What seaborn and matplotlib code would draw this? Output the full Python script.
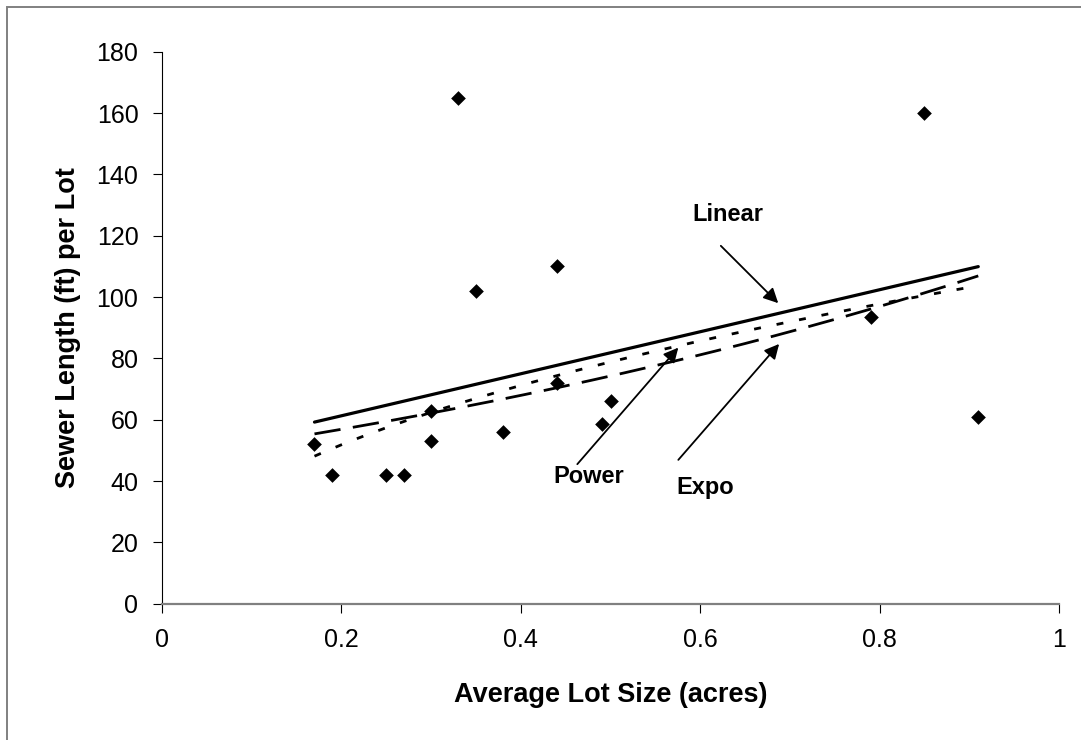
import numpy as np
import pandas as pd
import matplotlib
matplotlib.use("Agg")
import matplotlib.pyplot as plt
from matplotlib.patches import Rectangle
import seaborn as sns

# Average lot size (acres) and sewer length per lot (ft)
lot_size = [0.17, 0.19, 0.25, 0.27, 0.30, 0.30, 0.33, 0.35, 0.38, 0.44,
            0.44, 0.49, 0.50, 0.79, 0.85, 0.91]
sewer_len = [52, 42, 42, 42, 53, 63, 165, 102, 56, 72,
             110, 58.5, 66, 93.5, 160, 61]

x_ticks = [0, 0.2, 0.4, 0.6, 0.8, 1]
x_tick_labels = ["0", "0.2", "0.4", "0.6", "0.8", "1"]
y_ticks = [0, 20, 40, 60, 80, 100, 120, 140, 160, 180]

sns.set_theme(style="white")
plt.rcParams["font.family"] = ["Liberation Sans", "DejaVu Sans"]
plt.rcParams["lines.scale_dashes"] = False
plt.rcParams["text.color"] = "black"
plt.rcParams["axes.labelcolor"] = "black"

df = pd.DataFrame({"x": lot_size, "y": sewer_len})

W, H = 1081, 740
fig = plt.figure(figsize=(W / 100, H / 100), dpi=100)
ax = fig.add_axes([162 / W, 1 - 603.7 / H, (1059 - 162) / W, (603.7 - 51.7) / H])

# Trend lines fitted to the points
xs = np.linspace(min(lot_size), max(lot_size), 200)
xa = np.asarray(lot_size)
ya = np.asarray(sewer_len)
lin = np.polyfit(xa, ya, 1)
pw = np.polyfit(np.log(xa), np.log(ya), 1)
ex = np.polyfit(xa, np.log(ya), 1)
y_lin = np.polyval(lin, xs)
y_pow = np.exp(pw[1]) * xs ** pw[0]
y_exp = np.exp(ex[1]) * np.exp(ex[0] * xs)

sns.lineplot(x=xs, y=y_lin, ax=ax, color="black", lw=2.3)
sns.lineplot(x=xs, y=y_pow, ax=ax, color="black", lw=2.0, linestyle=(0, (5, 11.5)))
sns.lineplot(x=xs, y=y_exp, ax=ax, color="black", lw=2.0, linestyle=(0, (19, 9)))

sns.scatterplot(data=df, x="x", y="y", ax=ax, marker="D", s=56,
                color="black", linewidth=0, zorder=5)

ax.set_xlim(0, 1)
ax.set_ylim(0, 180)
ax.set_xticks(x_ticks)
ax.set_xticklabels(x_tick_labels)
ax.set_yticks(y_ticks)

for s in ("top", "right"):
    ax.spines[s].set_visible(False)
ax.spines["left"].set_color("black")
ax.spines["left"].set_linewidth(0.8)
ax.spines["bottom"].set_color("#808080")
ax.spines["bottom"].set_linewidth(1.6)

ax.tick_params(axis="both", which="major", direction="out", length=6.5,
               width=0.8, color="black", labelsize=18, labelcolor="black")
ax.tick_params(axis="x", pad=11, bottom=True)
ax.tick_params(axis="y", pad=10.5, left=True)

ax.set_xlabel("Average Lot Size (acres)", fontsize=19.5, fontweight="bold")
ax.set_ylabel("Sewer Length (ft) per Lot", fontsize=19.5, fontweight="bold")
ax.xaxis.set_label_coords(0.5, -0.142)
ax.yaxis.set_label_coords(-0.090, 0.5)

arrow = dict(arrowstyle="-|>", color="black", lw=1.3, mutation_scale=22,
             shrinkA=0, shrinkB=0)
ax.annotate("", xy=(0.687, 98.0), xytext=(0.623, 116.7), arrowprops=arrow)
ax.annotate("", xy=(0.5756, 83.5), xytext=(0.463, 45.5), arrowprops=arrow)
ax.annotate("", xy=(0.688, 84.7), xytext=(0.5756, 46.9), arrowprops=arrow)

lab = dict(fontsize=17, fontweight="bold", ha="center", va="center")
ax.text(0.6307, 127.0, "Linear", **lab)
ax.text(0.476, 41.5, "Power", **lab)
ax.text(0.6054, 37.9, "Expo", **lab)

# Chart-area frame
fig.patches.append(Rectangle((6.7 / W, -0.05), 1.1, (H - 7.3) / H + 0.05,
                             transform=fig.transFigure, fill=False,
                             edgecolor="#808080", lw=1.4))

fig.savefig("out.png", dpi=100, facecolor="white")
